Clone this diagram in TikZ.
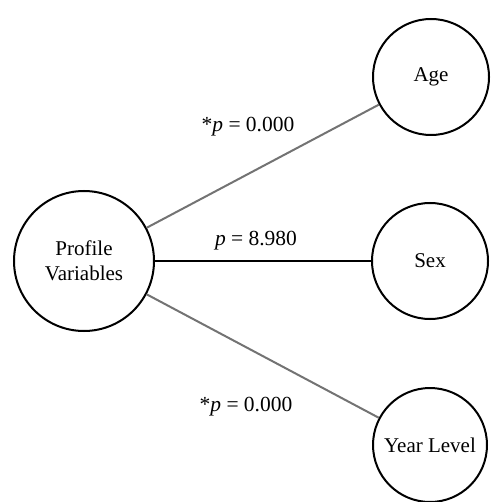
\documentclass[tikz,border=0pt]{standalone}
\usepackage{fontspec}
\setmainfont{Liberation Serif}
\begin{document}
\begin{tikzpicture}[x=1pt,y=-1pt,
        var/.style={circle,draw=black,line width=2pt,inner sep=0pt,
            align=center,font=\fontsize{21}{25}\selectfont},
        plabel/.style={font=\fontsize{21.5}{25}\selectfont},
        link/.style={line width=2pt}]
\useasboundingbox (0,0) rectangle (491,502);

\node[var,minimum size=140pt] (prof) at (84,261) {Profile\\Variables};
\node[var,minimum size=116pt] (age) at (431,77) {Age};
\node[var,minimum size=116pt] (sex) at (430,261) {Sex};
\node[var,minimum size=114pt] (year) at (430,445) {Year Level};

\draw[link,color=black!55] (prof) -- (age);
\draw[link,color=black] (prof) -- (sex);
\draw[link,color=black!55] (prof) -- (year);

\node[plabel] (pa) at (248,127) {*\textit{p} = 0.000};
\node[plabel] (ps) at (256,241) {\textit{p} = 8.980};
\node[plabel] (py) at (246,407) {*\textit{p} = 0.000};

\end{tikzpicture}
\end{document}
